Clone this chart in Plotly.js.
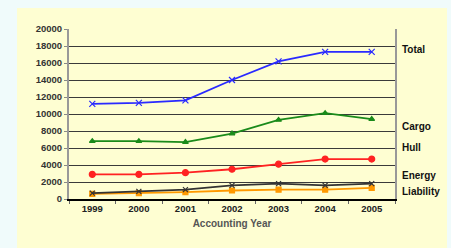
<!DOCTYPE html>
<html>
<head>
<meta charset="utf-8">
<script src="https://cdn.plot.ly/plotly-3.0.1.min.js"></script>
<style>
  html, body { margin: 0; padding: 0; background: #f0fbfb; width: 451px; height: 248px; overflow: hidden; }
  #chart { position: absolute; left: 17px; top: 8px; width: 430px; height: 240px; }
</style>
</head>
<body>
<div id="chart"></div>
<script>
const years = ["1999", "2000", "2001", "2002", "2003", "2004", "2005"];
const total = [11200, 11300, 11600, 14000, 16200, 17300, 17300];
const cargo = [6800, 6800, 6700, 7700, 9300, 10100, 9400];
const hull = [2900, 2900, 3100, 3500, 4100, 4700, 4700];
const energy = [700, 900, 1100, 1600, 1800, 1600, 1800];
const liability = [600, 700, 800, 1000, 1100, 1100, 1300];
const yTicks = [0, 2000, 4000, 6000, 8000, 10000, 12000, 14000, 16000, 18000, 20000];
const seriesNames = ["Total", "Cargo", "Hull", "Energy", "Liability"];
const labelY = [17600, 8500, 6100, 2800, 900];

const font = "Liberation Sans, Arial, sans-serif";
function tr(name, y, color, symbol, size) {
  return {
    x: years, y: y, name: name, type: "scatter", mode: "lines+markers",
    line: { color: color, width: 1.8 },
    marker: { color: color, symbol: symbol, size: size, line: { color: color, width: 1.2 } },
    cliponaxis: false
  };
}
const data = [
  tr("Liability", liability, "#ff9900", "square", 5),
  tr("Energy", energy, "#333333", "x-thin", 5),
  tr("Hull", hull, "#ff2222", "circle", 6),
  tr("Cargo", cargo, "#1a8a1a", "triangle-up", 5),
  tr("Total", total, "#2a2aff", "x-thin", 6)
];
const annotations = seriesNames.map((n, i) => ({
  text: "<b>" + n + "</b>", xref: "paper", x: 1, xanchor: "left", xshift: 5,
  yref: "y", y: labelY[i], yanchor: "middle", showarrow: false,
  font: { family: font, size: 10, color: "#111" }
}));
const layout = {
  width: 430, height: 240,
  margin: { l: 52, r: 52, t: 21, b: 49 },
  paper_bgcolor: "#fefed2", plot_bgcolor: "#fefed2",
  showlegend: false,
  xaxis: {
    type: "category", range: [-0.5, 6.5],
    tickson: "boundaries", ticks: "outside", ticklen: 3, tickcolor: "#666", tickwidth: 1,
    showgrid: false, showline: true, linecolor: "#000", linewidth: 2,
    tickfont: { family: font, size: 9.5, color: "#222", weight: "bold" },
    title: { text: "<b>Accounting Year</b>", font: { family: font, size: 10, color: "#555" }, standoff: 7 }
  },
  yaxis: {
    range: [0, 20000], tickvals: yTicks, ticktext: yTicks.map(String),
    ticks: "outside", ticklen: 3, tickcolor: "#888",
    showgrid: true, gridcolor: "#3a3a3a", gridwidth: 1,
    showline: true, linecolor: "#999", linewidth: 2, mirror: true,
    zeroline: false,
    tickfont: { family: font, size: 9.5, color: "#333", weight: "bold" }
  },
  annotations: annotations
};
Plotly.newPlot("chart", data, layout, { staticPlot: true, displayModeBar: false });
</script>
</body>
</html>
